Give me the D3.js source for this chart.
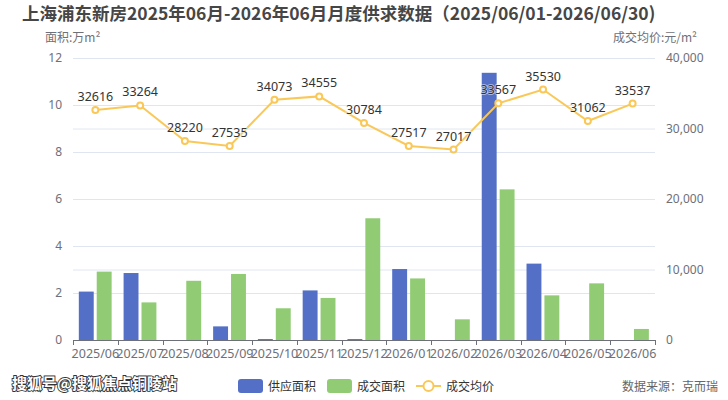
<!DOCTYPE html>
<html>
<head>
<meta charset="utf-8">
<script src="https://cdn.jsdelivr.net/npm/d3@7/dist/d3.min.js"></script>
<style>
  body { margin: 0; background: #fff; }
  svg { display: block; font-family: "Noto Sans CJK SC", "Noto Sans", sans-serif; }
</style>
</head>
<body>
<svg id="chart" width="728" height="400"></svg>
<script>
// data
const months = ["2025/06", "2025/07", "2025/08", "2025/09", "2025/10", "2025/11", "2025/12",
                "2026/01", "2026/02", "2026/03", "2026/04", "2026/05", "2026/06"];
const supply = [2.06, 2.85, 0, 0.58, 0.04, 2.11, 0.04, 3.02, 0, 11.37, 3.25, 0, 0];
const deal = [2.91, 1.6, 2.52, 2.81, 1.35, 1.79, 5.18, 2.62, 0.88, 6.41, 1.9, 2.41, 0.47];
const price = [32616, 33264, 28220, 27535, 34073, 34555, 30784, 27517, 27017, 33567, 35530, 31062, 33537];
const leftTicks = [0, 2, 4, 6, 8, 10, 12];
const rightTicks = [0, 10000, 20000, 30000, 40000];

const BLUE = "#5470c6", GREEN = "#91cc75", YELLOW = "#fac858";
const AXIS_COR = "#6e7079", GRID_COR = "#e0e6f1";

const svg = d3.select("#chart");
const PL = 73, PR = 655, PT = 58, PB = 340;

const x = d3.scaleBand().domain(months).range([PL, PR]);
const yL = d3.scaleLinear().domain([0, 12]).range([PB, PT]);
const yR = d3.scaleLinear().domain([0, 40000]).range([PB, PT]);
const bw = x.bandwidth();
const barW = bw * 0.333, gap = bw * 0.067, pad = bw * 0.13;

// title
svg.append("text")
    .attr("x", 22).attr("y", 20)
    .attr("font-size", 17.5).attr("font-weight", "bold").attr("fill", "#464646")
    .text("上海浦东新房2025年06月-2026年06月月度供求数据（2025/06/01-2026/06/30)");

// axis names
svg.append("text").attr("x", 45).attr("y", 42).attr("font-size", 12).attr("fill", AXIS_COR)
    .text("面积:万m²");
svg.append("text").attr("x", 697).attr("y", 42).attr("font-size", 12).attr("fill", AXIS_COR)
    .attr("text-anchor", "end").text("成交均价:元/m²");

// grid lines from both axes
const grid = svg.append("g");
leftTicks.slice(1).forEach(t => {
    grid.append("line").attr("x1", PL).attr("x2", PR)
        .attr("y1", yL(t) + 0.5).attr("y2", yL(t) + 0.5)
        .attr("stroke", GRID_COR);
});
rightTicks.slice(1).forEach(t => {
    grid.append("line").attr("x1", PL).attr("x2", PR)
        .attr("y1", yR(t) + 0.5).attr("y2", yR(t) + 0.5)
        .attr("stroke", GRID_COR);
});

// left axis labels
const axL = svg.append("g").attr("transform", `translate(${PL - 8},0)`)
    .call(d3.axisLeft(yL).tickValues(leftTicks).tickSize(0).tickFormat(d3.format("d")));
axL.select(".domain").remove();
axL.selectAll("text").attr("font-size", 12).attr("fill", AXIS_COR)
    .attr("font-family", "Noto Sans, sans-serif");

// right axis labels
const axR = svg.append("g").attr("transform", `translate(${PR + 8},0)`)
    .call(d3.axisRight(yR).tickValues(rightTicks).tickSize(0).tickFormat(d3.format(",")));
axR.select(".domain").remove();
axR.selectAll("text").attr("font-size", 12).attr("fill", AXIS_COR)
    .attr("font-family", "Noto Sans, sans-serif");

// bars
const bars = svg.append("g");
bars.selectAll(".sup").data(months).join("rect")
    .attr("x", d => x(d) + pad)
    .attr("y", (d, i) => yL(supply[i]))
    .attr("width", barW)
    .attr("height", (d, i) => PB - yL(supply[i]))
    .attr("fill", BLUE);
bars.selectAll(".deal").data(months).join("rect")
    .attr("x", d => x(d) + pad + barW + gap)
    .attr("y", (d, i) => yL(deal[i]))
    .attr("width", barW)
    .attr("height", (d, i) => PB - yL(deal[i]))
    .attr("fill", GREEN);

// x axis
const axX = svg.append("g").attr("transform", `translate(0,${PB})`)
    .call(d3.axisBottom(x).tickSize(0).tickSizeOuter(0));
axX.select(".domain").attr("stroke", AXIS_COR);
axX.selectAll("text").attr("font-size", 12.5).attr("fill", AXIS_COR).attr("dy", "1.2em")
    .attr("font-family", "Noto Sans, sans-serif");
d3.range(months.length + 1).forEach(i => {
    const xx = Math.round(PL + i * bw) + 0.5;
    axX.append("line").attr("x1", xx).attr("x2", xx).attr("y1", 0).attr("y2", 5)
        .attr("stroke", AXIS_COR);
});

// price line
const cx = (d) => x(d) + bw / 2;
const line = d3.line().x((d, i) => cx(months[i])).y(d => yR(d));
svg.append("path").datum(price)
    .attr("d", line)
    .attr("fill", "none")
    .attr("stroke", YELLOW)
    .attr("stroke-width", 2);
svg.append("g").selectAll("circle").data(price).join("circle")
    .attr("cx", (d, i) => cx(months[i]))
    .attr("cy", d => yR(d))
    .attr("r", 3)
    .attr("fill", "#fff")
    .attr("stroke", YELLOW)
    .attr("stroke-width", 2);
svg.append("g").selectAll("text").data(price).join("text")
    .attr("x", (d, i) => cx(months[i]))
    .attr("y", d => yR(d) - 9)
    .attr("text-anchor", "middle")
    .attr("font-size", 12.5)
    .attr("font-family", "Noto Sans, sans-serif")
    .attr("fill", "#333")
    .attr("stroke", "rgba(255,255,255,0.6)")
    .attr("stroke-width", 1.5)
    .attr("paint-order", "stroke")
    .text(d => d);

// legend
const lg = svg.append("g").attr("font-size", 12).attr("fill", "#333");
lg.append("rect").attr("x", 238).attr("y", 379).attr("width", 25).attr("height", 14)
    .attr("rx", 3).attr("fill", BLUE);
lg.append("text").attr("x", 268).attr("y", 390.5).text("供应面积");
lg.append("rect").attr("x", 327).attr("y", 379).attr("width", 25).attr("height", 14)
    .attr("rx", 3).attr("fill", GREEN);
lg.append("text").attr("x", 357).attr("y", 390.5).text("成交面积");
lg.append("line").attr("x1", 416).attr("x2", 441).attr("y1", 386).attr("y2", 386)
    .attr("stroke", YELLOW).attr("stroke-width", 2);
lg.append("circle").attr("cx", 428.5).attr("cy", 386).attr("r", 5)
    .attr("fill", "#fff").attr("stroke", YELLOW).attr("stroke-width", 2);
lg.append("text").attr("x", 446).attr("y", 390.5).text("成交均价");

// watermark and source
svg.append("text").attr("x", 12).attr("y", 389)
    .attr("font-size", 15).attr("font-weight", "bold")
    .attr("fill", "#fff").attr("stroke", "#333").attr("stroke-width", 1.8)
    .attr("paint-order", "stroke")
    .text("搜狐号@搜狐焦点铜陵站");
svg.append("text").attr("x", 718).attr("y", 391)
    .attr("text-anchor", "end").attr("font-size", 12).attr("fill", "#666")
    .text("数据来源：克而瑞");
</script>
</body>
</html>
